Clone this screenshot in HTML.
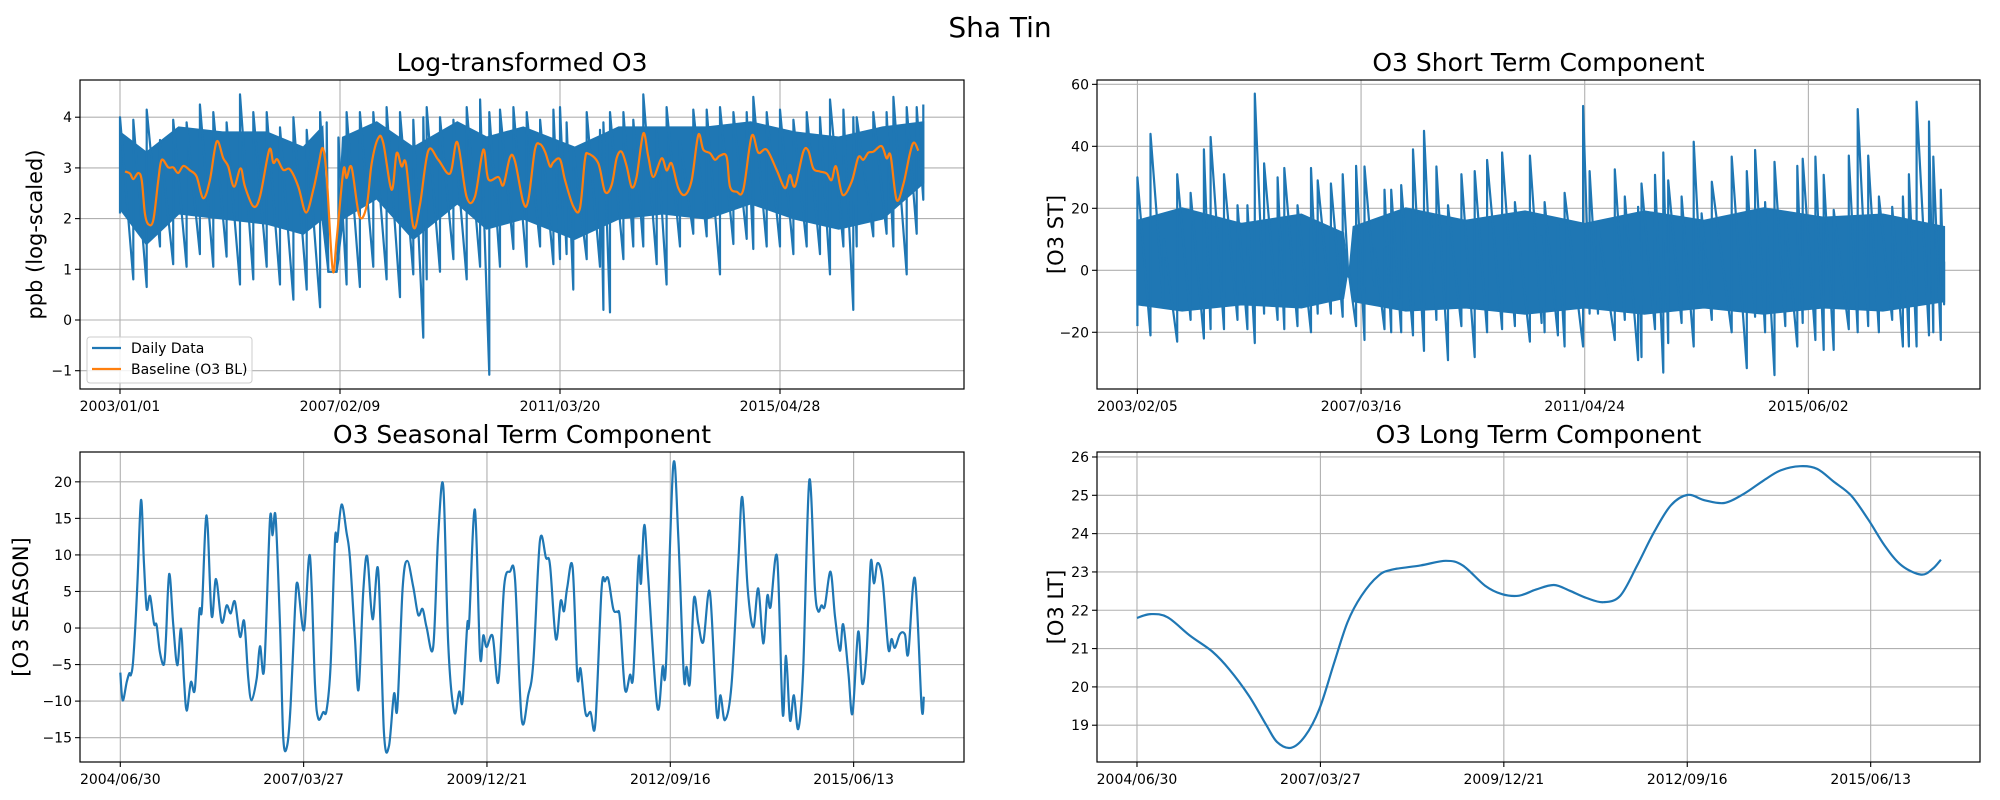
<!DOCTYPE html>
<html><head><meta charset="utf-8"><title>Sha Tin</title>
<style>
html,body{margin:0;padding:0;background:#fff;}
svg{display:block;font-family:"DejaVu Sans","Liberation Sans",sans-serif;}
</style></head>
<body>
<svg id="fig" width="2000" height="800" viewBox="0 0 2000 800" xmlns="http://www.w3.org/2000/svg">
<rect width="2000" height="800" fill="#fff"/>
<text x="1000" y="37" font-size="28" text-anchor="middle">Sha Tin</text>
</svg>
<script>
// ---------- Data: Log-transformed O3 (days since 2003/01/01) ----------
const dailyDay=[0,91,182,273,363,454,545,636,727,818,909,1000,1091,1182,1273,1364,1409,1420,1477,1489,1545,1636,1727,1818,1909,2000,2068,2091,2182,2273,2364,2455,2518,2591,2682,2773,2864,2955,3000,3045,3091,3182,3273,3296,3341,3432,3500,3568,3659,3727,3818,3909,4000,4091,4182,4273,4318,4409,4500,4591,4682,4773,4841,4932,5000,5023,5136,5227,5273,5364,5432,5477];
const dailyHi=[4.0,3.95,4.15,3.55,3.95,3.9,4.25,4.1,3.9,4.45,4.1,4.1,3.8,4.0,3.75,4.1,3.9,0.95,0.95,3.6,4.1,4.1,4.1,4.2,4.1,3.95,4.0,4.2,4.0,3.95,4.2,4.35,4.1,4.15,4.2,4.1,3.95,4.15,4.2,3.9,3.4,4.1,3.75,3.9,4.1,4.1,3.95,4.45,3.75,4.2,3.55,4.15,4.15,4.2,4.1,4.1,4.4,4.1,4.15,3.95,4.1,4.0,4.35,4.15,4.0,4.0,4.1,4.1,4.4,4.2,4.2,4.25];
const dailyLo=[2.1,0.8,0.65,1.45,1.1,1.05,1.3,1.05,1.25,0.7,0.8,1.05,0.7,0.4,0.6,0.25,1.5,0.95,0.95,1.2,0.7,0.65,1.05,0.8,0.45,0.9,-0.35,0.8,0.95,1.2,0.8,1.05,-1.08,1.05,1.4,1.05,1.45,1.1,1.2,1.3,0.6,1.2,1.05,0.2,0.15,1.2,1.45,1.45,1.1,0.7,1.45,1.7,1.65,0.9,1.5,1.6,1.4,1.45,1.45,1.3,1.45,1.3,0.9,1.45,0.2,1.45,1.65,1.7,1.45,0.9,1.7,2.37];
const coreDay=[0,180,400,700,1000,1250,1380,1420,1477,1520,1750,2000,2300,2500,2750,3100,3400,3700,4000,4300,4600,4900,5200,5477];
const coreHi=[3.7,3.3,3.8,3.7,3.7,3.4,3.8,0.95,0.95,3.6,3.9,3.4,3.9,3.6,3.8,3.4,3.8,3.8,3.8,3.9,3.7,3.6,3.8,3.9];
const coreLo=[2.2,1.5,2.1,2.0,1.9,1.7,2.0,0.95,0.95,2.0,2.4,1.6,2.3,1.8,2.0,1.6,2.0,2.1,2.0,2.3,2.0,1.8,2.0,2.7];
const blDay=[34,68,91,125,148,170,193,227,261,284,329,363,397,432,477,522,568,613,659,704,738,777,822,852,909,954,1018,1045,1072,1113,1159,1216,1268,1318,1352,1382,1409,1450,1477,1523,1545,1579,1632,1682,1716,1761,1795,1852,1886,1920,1950,2000,2045,2102,2170,2250,2300,2363,2420,2477,2511,2580,2614,2659,2693,2750,2784,2829,2863,2898,2932,2954,3000,3034,3091,3136,3170,3193,3261,3307,3352,3386,3420,3455,3489,3523,3568,3602,3636,3693,3727,3761,3807,3852,3898,3943,3977,4023,4057,4091,4136,4159,4204,4250,4307,4352,4409,4477,4534,4568,4602,4659,4693,4727,4773,4818,4852,4882,4927,4989,5034,5068,5102,5136,5193,5227,5254,5295,5341,5386,5413,5443];
const blVal=[2.93,2.89,2.78,2.9,2.76,2.1,1.89,1.97,2.76,3.16,3.01,3.01,2.9,3.04,2.95,2.83,2.4,2.76,3.52,3.19,3.03,2.63,2.99,2.63,2.24,2.43,3.36,3.1,3.17,2.96,2.97,2.63,2.12,2.57,3.03,3.39,2.83,0.99,1.58,2.95,2.8,3.01,2.05,2.25,3.09,3.59,3.49,2.57,3.29,3.03,3.08,1.84,2.27,3.34,3.16,2.89,3.51,2.43,2.43,3.36,2.78,2.82,2.66,3.21,3.13,2.32,2.37,3.36,3.47,3.32,3.03,3.11,3.17,2.76,2.24,2.2,3.16,3.28,3.09,2.53,2.66,3.19,3.32,3.03,2.62,2.83,3.68,3.22,2.82,3.19,2.95,3.09,2.6,2.47,2.76,3.65,3.36,3.29,3.16,3.24,3.22,2.63,2.53,2.57,3.63,3.3,3.36,2.96,2.6,2.86,2.64,3.32,3.34,2.99,2.93,2.89,2.76,3.03,2.47,2.73,3.21,3.16,3.3,3.32,3.43,3.19,3.24,2.37,2.68,3.29,3.5,3.34];
const tlTickDays=[0,1500,3000,4500];
const tlTickLabels=["2003/01/01","2007/02/09","2011/03/20","2015/04/28"];
const tlYTicks=[-1,0,1,2,3,4];

// ---------- Data: Short term (days since 2003/02/05) ----------
const stDay=[0,88,177,267,357,446,491,581,671,738,787,850,940,985,1074,1164,1209,1298,1377,1415,1467,1523,1590,1657,1702,1769,1848,1922,1971,2005,2083,2173,2262,2345,2446,2532,2632,2711,2731,2820,2865,2989,3033,3089,3202,3269,3358,3381,3471,3527,3560,3650,3731,3784,3852,3986,4087,4143,4210,4273,4345,4426,4462,4547,4603,4670,4771,4831,4901,4973,5062,5134,5174,5226,5309,5338,5388,5410];
const stHi=[30,44,10,31,25,39,43,31,21,21,57,34.5,30,33,21,33,29,28,31,0,33.7,33.5,7.6,26,26,27.5,39,45,17,33.5,21,31,32,35.6,38,22,37,11,22,15,25,53,32,14.6,32.6,23.8,20.5,28,30.8,38,29,23.8,41.5,18.4,28.6,36.7,32,38.8,22,35,17.8,33.7,36,36.7,30.8,19.5,37,52,37,23.8,20.5,23.8,31,54.4,48,36.7,26,2.8];
const stLo=[-18,-21,-12,-23,-16,-22,-19,-19,-16,-19,-23.5,-14,-16,-19,-18,-20,-14,-14,-15,-2,-18,-22.5,-5,-19,-20,-20,-21,-26,-6,-16,-29,-18,-28,-20,-19,-18,-23,-17,-20,-21,-24.6,-24.6,-14,-14,-22.5,-16,-29,-28,-19,-33,-23.5,-17,-24.6,-7.5,-16,-20,-31.6,-15,-20,-33.8,-18,-24.6,-17,-22.5,-25.7,-25.7,-19,-20,-18,-20,-16,-24.6,-24.6,-24.6,-21,-20,-22.5,-11];
const stCoreDay=[0,300,700,1100,1380,1405,1415,1425,1450,1800,2200,2600,3000,3400,3800,4200,4600,5000,5410];
const stCoreHi=[16,20,15,18,12,1,0,1,14,20,16,19,15,19,16,20,17,18,14];
const stCoreLo=[-11,-13,-11,-12,-9,-1.5,-2,-1.5,-10,-13,-12,-14,-12,-14,-12,-14,-12,-13,-10];
const trTickDays=[0,1500,3000,4500];
const trTickLabels=["2003/02/05","2007/03/16","2011/04/24","2015/06/02"];
const trYTicks=[-20,0,20,40,60];

// ---------- Data: Seasonal (days since 2004/06/30) ----------
const seDay=[0,13,35,49,58,71,93,113,129,144,162,184,198,216,238,249,267,289,311,331,347,362,385,407,431,445,471,498,522,553,580,602,625,653,676,698,716,744,762,785,816,831,847,871,889,911,929,953,967,1002,1034,1062,1080,1107,1125,1147,1171,1183,1207,1234,1253,1280,1300,1325,1347,1376,1407,1438,1465,1493,1511,1540,1565,1598,1625,1649,1671,1707,1734,1762,1789,1822,1849,1867,1893,1903,1934,1962,1980,1998,2031,2062,2094,2125,2153,2189,2225,2253,2289,2322,2344,2376,2402,2420,2438,2467,2493,2511,2538,2565,2591,2625,2644,2662,2689,2711,2725,2753,2780,2798,2827,2840,2858,2880,2929,2958,2976,3016,3044,3074,3089,3107,3129,3153,3180,3216,3253,3274,3298,3334,3371,3393,3422,3453,3480,3507,3529,3547,3583,3613,3631,3653,3674,3698,3725,3758,3789,3807,3825,3843,3874,3898,3925,3943,3971,3994,4025,4047,4071,4093,4111,4131,4158,4189,4207,4225,4253,4280,4298,4334,4371,4383];
const seVal=[-6.1,-9.9,-7.4,-6.2,-6.4,-4.2,5.8,17.5,9.0,2.6,4.4,0.6,0.4,-3.3,-5.0,-1.5,7.4,0.4,-5.1,-0.1,-6.9,-11.3,-7.4,-8.3,2.2,2.6,15.4,1.7,6.7,0.8,3.1,2.0,3.6,-1.2,0.9,-6.9,-9.9,-6.9,-2.5,-5.5,14.7,12.7,15.2,0.4,-15.1,-16.0,-10.6,2.6,6.1,-0.3,9.9,-7.8,-12.4,-11.5,-11.3,-5.1,12.0,11.9,16.9,13.1,9.5,-1.5,-8.4,4.9,9.8,1.2,7.9,-14.2,-16.2,-9.0,-11.0,5.4,9.2,5.6,1.8,2.6,0.1,-2.6,12.7,19.3,-2.4,-11.5,-8.7,-10.0,0.5,0.8,16.2,-3.7,-1.0,-2.6,-1.1,-7.4,5.8,7.7,6.7,-12.4,-9.2,-4.7,11.9,9.6,8.6,-1.5,3.7,2.3,5.6,8.3,-6.6,-5.6,-11.7,-11.5,-13.1,5.2,6.4,6.7,2.6,2.2,1.3,-8.4,-6.4,-6.4,9.5,6.1,14.1,6.7,-10.8,-5.3,-5.3,22.2,12.2,-6.7,-5.3,-7.5,4.0,0.6,-1.9,4.9,-11.7,-9.2,-12.6,-7.8,9.0,17.9,5.4,0.1,5.4,-2.1,4.4,2.9,9.6,-11.7,-3.8,-12.6,-9.2,-13.8,-5.6,20.2,5.4,2.3,3.1,3.0,7.7,1.7,-3.1,0.5,-6.0,-11.7,-0.5,-7.6,-3.3,9.0,6.1,8.9,6.5,-2.8,-1.5,-2.7,-0.8,-0.9,-3.5,6.8,-10.8,-9.4];
const blTickDays=[0,1000,2000,3000,4000];
const blTickLabels=["2004/06/30","2007/03/27","2009/12/21","2012/09/16","2015/06/13"];
const blYTicks=[-15,-10,-5,0,5,10,15,20];

// ---------- Data: Long term (days since 2004/06/30) ----------
const ltDay=[0,74,166,288,411,503,610,702,764,840,917,994,1070,1147,1224,1316,1392,1546,1684,1776,1898,1991,2083,2175,2273,2359,2451,2543,2635,2727,2819,2911,3003,3095,3202,3309,3417,3509,3616,3708,3800,3892,3984,4076,4168,4275,4337,4383];
const ltVal=[21.8,21.9,21.82,21.34,20.92,20.46,19.77,19.03,18.56,18.41,18.72,19.42,20.55,21.68,22.38,22.9,23.06,23.17,23.29,23.17,22.64,22.42,22.38,22.54,22.66,22.51,22.32,22.21,22.38,23.17,24.04,24.74,25.01,24.87,24.8,25.04,25.39,25.65,25.76,25.69,25.35,25.0,24.39,23.69,23.17,22.93,23.08,23.32];
const brYTicks=[19,20,21,22,23,24,25,26];

const NS="http://www.w3.org/2000/svg";
const fig=document.getElementById('fig');
const BLUE="#1f77b4", ORANGE="#ff7f0e";
function el(tag,attrs,parent){const e=document.createElementNS(NS,tag);for(const k in attrs)e.setAttribute(k,attrs[k]);(parent||fig).appendChild(e);return e;}
function fmt(v){return v<0?"\u2212"+Math.abs(v):String(v);}

function makeAxes(o){
  const g=el('g',{});
  
  
  const sx=d=>o.x0+(d-o.xd[0])/(o.xd[1]-o.xd[0])*(o.x1-o.x0);
  const sy=v=>o.y1-(v-o.yd[0])/(o.yd[1]-o.yd[0])*(o.y1-o.y0);
  const grid=el('g',{},g);
  
  
  o.xt.forEach((d,i)=>{
    const x=sx(d);
    const gl=el('line',{x1:x,x2:x,y1:o.y0,y2:o.y1,stroke:'#b0b0b0','stroke-width':1.1},grid);
    
    
    const tk=el('line',{x1:x,x2:x,y1:o.y1,y2:o.y1+5,stroke:'#000','stroke-width':1.1},g);
    
    
    const t=el('text',{x:x,y:o.y1+22,'font-size':14,'text-anchor':'middle'},g);
    t.textContent=o.xl[i];
    
    
  });
  o.yt.forEach(v=>{
    const y=sy(v);
    const gl=el('line',{x1:o.x0,x2:o.x1,y1:y,y2:y,stroke:'#b0b0b0','stroke-width':1.1},grid);
    
    
    const tk=el('line',{x1:o.x0-5,x2:o.x0,y1:y,y2:y,stroke:'#000','stroke-width':1.1},g);
    
    
    const t=el('text',{x:o.x0-8,y:y+5,'font-size':14,'text-anchor':'end'},g);
    t.textContent=fmt(v);
    
    
  });
  const cp='clip-'+o.name;
  const cl=el('clipPath',{id:cp},g);
  el('rect',{x:o.x0,y:o.y0,width:o.x1-o.x0,height:o.y1-o.y0},cl);
  const plot=el('g',{'clip-path':'url(#'+cp+')'},g);
  
  
  const title=el('text',{x:(o.x0+o.x1)/2,y:o.y0-9,'font-size':25,'text-anchor':'middle'},g);
  title.textContent=o.title;
  
  
  const yl=el('text',{x:0,y:0,'font-size':21,'text-anchor':'middle',transform:`translate(${o.ylx},${(o.y0+o.y1)/2}) rotate(-90)`},g);
  yl.textContent=o.ylabel;
  
  
  return {g,plot,sx,sy,finish(){
    const fr=el('rect',{x:o.x0,y:o.y0,width:o.x1-o.x0,height:o.y1-o.y0,fill:'none',stroke:'#000','stroke-width':1.2},g);
    
    
  }};
}
function smoothPath(ax,xs,ys){
  const P=xs.map((d,i)=>[ax.sx(d),ax.sy(ys[i])]);
  let p='M'+P[0][0].toFixed(1)+','+P[0][1].toFixed(1);
  for(let i=0;i<P.length-1;i++){
    const p0=P[Math.max(i-1,0)],p1=P[i],p2=P[i+1],p3=P[Math.min(i+2,P.length-1)];
    const c1=[p1[0]+(p2[0]-p0[0])/6,p1[1]+(p2[1]-p0[1])/6];
    const c2=[p2[0]-(p3[0]-p1[0])/6,p2[1]-(p3[1]-p1[1])/6];
    p+='C'+c1[0].toFixed(1)+','+c1[1].toFixed(1)+' '+c2[0].toFixed(1)+','+c2[1].toFixed(1)+' '+p2[0].toFixed(1)+','+p2[1].toFixed(1);
  }
  return p;
}
function bandPath(ax,xs,hi,lo){
  let p=xs.map((d,i)=>(i?'L':'M')+ax.sx(d).toFixed(1)+','+ax.sy(hi[i]).toFixed(1)).join('');
  for(let i=xs.length-1;i>=0;i--)p+='L'+ax.sx(xs[i]).toFixed(1)+','+ax.sy(lo[i]).toFixed(1);
  return p+'Z';
}
function zigPath(ax,xs,hi,lo){
  let p='';
  xs.forEach((d,i)=>{const x=ax.sx(d).toFixed(1);p+=(i?'L':'M')+x+','+ax.sy(lo[i]).toFixed(1)+'L'+x+','+ax.sy(hi[i]).toFixed(1);});
  return p;
}

// ---- Top-left ----
const tl=makeAxes({name:'log-o3-chart',x0:80,x1:964,y0:80,y1:389,xd:[-272.7,5754.5],yd:[-1.361,4.734],xt:tlTickDays,xl:tlTickLabels,yt:tlYTicks,title:'Log-transformed O3',ylabel:'ppb (log-scaled)',ylx:42});
const core1=el('path',{d:bandPath(tl,coreDay,coreHi,coreLo),fill:BLUE,stroke:BLUE,'stroke-width':2},tl.plot);


const daily=el('path',{d:zigPath(tl,dailyDay,dailyHi,dailyLo),fill:'none',stroke:BLUE,'stroke-width':2.2,'stroke-linejoin':'round'},tl.plot);


const bl=el('path',{d:smoothPath(tl,blDay,blVal),fill:'none',stroke:ORANGE,'stroke-width':2.2,'stroke-linejoin':'round'},tl.plot);


tl.finish();
// legend
const lg=el('g',{});


el('rect',{x:87,y:337,width:165,height:46,rx:3,fill:'#fff','fill-opacity':0.85,stroke:'#ccc','stroke-width':1},lg);
const le1=el('g',{},lg);


el('line',{x1:92,x2:121,y1:348,y2:348,stroke:BLUE,'stroke-width':2.2},le1);
el('text',{x:131,y:353,'font-size':14},le1).textContent='Daily Data';
const le2=el('g',{},lg);


el('line',{x1:92,x2:121,y1:369,y2:369,stroke:ORANGE,'stroke-width':2.2},le2);
el('text',{x:131,y:374,'font-size':14},le2).textContent='Baseline (O3 BL)';

// ---- Top-right ----
const tr=makeAxes({name:'short-term-chart',x0:1097,x1:1980,y0:80,y1:389,xd:[-271,5651],yd:[-38.3,61.4],xt:trTickDays,xl:trTickLabels,yt:trYTicks,title:'O3 Short Term Component',ylabel:'[O3 ST]',ylx:1063});
const core2=el('path',{d:bandPath(tr,stCoreDay,stCoreHi,stCoreLo),fill:BLUE,stroke:BLUE,'stroke-width':2},tr.plot);


const st=el('path',{d:zigPath(tr,stDay,stHi,stLo),fill:'none',stroke:BLUE,'stroke-width':2.2,'stroke-linejoin':'round'},tr.plot);


tr.finish();

// ---- Bottom-left ----
const bla=makeAxes({name:'seasonal-chart',x0:80,x1:964,y0:452,y1:762,xd:[-219.8,4602],yd:[-18.33,24.08],xt:blTickDays,xl:blTickLabels,yt:blYTicks,title:'O3 Seasonal Term Component',ylabel:'[O3 SEASON]',ylx:28});
const se=el('path',{d:smoothPath(bla,seDay,seVal),fill:'none',stroke:BLUE,'stroke-width':2.2,'stroke-linejoin':'round'},bla.plot);


bla.finish();

// ---- Bottom-right ----
const br=makeAxes({name:'long-term-chart',x0:1097,x1:1980,y0:452,y1:762,xd:[-218,4596],yd:[18.04,26.13],xt:blTickDays,xl:blTickLabels,yt:brYTicks,title:'O3 Long Term Component',ylabel:'[O3 LT]',ylx:1063});
const lt=el('path',{d:smoothPath(br,ltDay,ltVal),fill:'none',stroke:BLUE,'stroke-width':2.2,'stroke-linejoin':'round'},br.plot);


br.finish();
</script>
</body></html>
